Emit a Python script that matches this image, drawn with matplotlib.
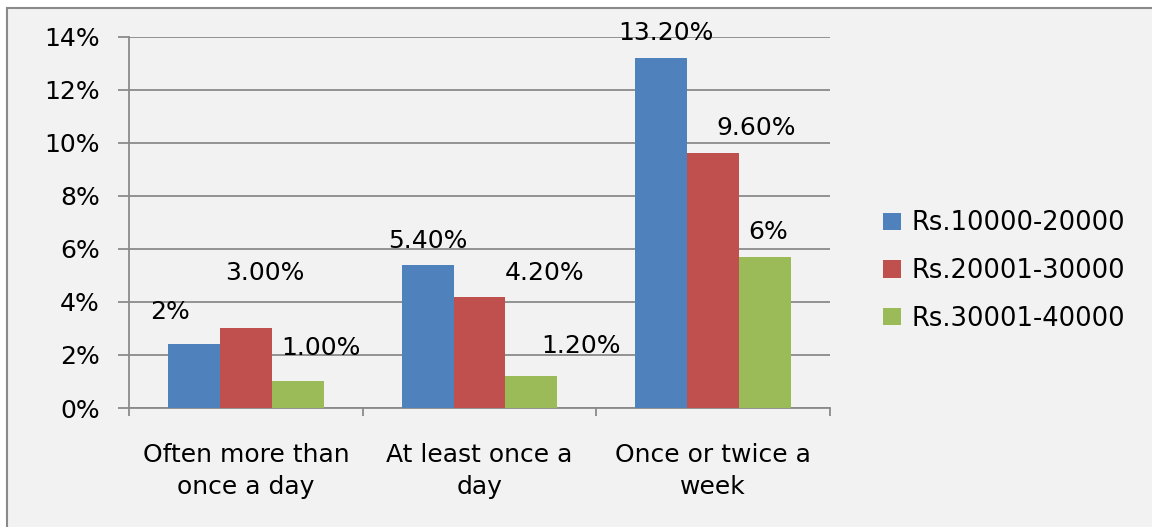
import numpy as np
from matplotlib import pyplot as plt
from matplotlib.patches import Rectangle
from matplotlib.ticker import FuncFormatter

# frequency categories and the three income groups
categories = ['Often more than\nonce a day', 'At least once a\nday', 'Once or twice a\nweek']
groups = ['Rs.10000-20000', 'Rs.20001-30000', 'Rs.30001-40000']
low_income = [2.4, 5.4, 13.2]
mid_income = [3.0, 4.2, 9.6]
high_income = [1.0, 1.2, 5.7]
label_formats = [['{:.0f}%', '{:.2f}%', '{:.2f}%'],
                 ['{:.2f}%', '{:.2f}%', '{:.2f}%'],
                 ['{:.2f}%', '{:.2f}%', '{:.0f}%']]

colors = ['#4F81BD', '#C0504D', '#9BBB59']
grid_grey = '#8A8A8A'
fs = 18
# where each value label sits relative to the top of its bar (points)
label_offsets = [
    [(-17, 18), (14, 35), (17, 19)],
    [(0, 12), (47, 12), (36, 17)],
    [(3, 13), (31, 13), (2, 13)],
]

plt.rcParams['font.family'] = 'DejaVu Sans'
fig = plt.figure(figsize=(11.52, 5.27), dpi=100, facecolor='white')

# grey chart-area box
fig.patches.append(Rectangle((7 / 1152, -0.05), 1.2, 1.05 - 8 / 527,
                             transform=fig.transFigure, facecolor='#F2F2F2',
                             edgecolor='#8A8A8A', linewidth=1.5, zorder=-10))

ax = fig.add_axes([129 / 1152, 1 - 408 / 527, 701 / 1152, 371.5 / 527])
ax.set_facecolor('none')

x = np.arange(len(categories))
w = 0.222
series = [low_income, mid_income, high_income]
for i, (vals, name, c) in enumerate(zip(series, groups, colors)):
    bars = ax.bar(x + (i - 1) * w, vals, w, color=c, label=name, zorder=3)
    for j, b in enumerate(bars):
        dx, dy = label_offsets[j][i]
        ax.annotate(label_formats[j][i].format(vals[j]),
                    (b.get_x() + b.get_width() / 2, b.get_height()),
                    xytext=(dx, dy), textcoords='offset points',
                    ha='center', va='baseline', fontsize=fs, color='black', zorder=4)

ax.set_xlim(-0.5, 2.5)
ax.set_ylim(0, 14)
ax.set_yticks(np.arange(0, 15, 2))
ax.yaxis.set_major_formatter(FuncFormatter(lambda v, p: f'{v:.0f}%'))
ax.grid(axis='y', color=grid_grey, linewidth=1.3, zorder=0)

ax.set_xticks(x)
ax.set_xticklabels(categories, fontsize=fs, linespacing=1.45)
ax.set_xticks([-0.5, 0.5, 1.5, 2.5], minor=True)
ax.tick_params(axis='x', which='major', length=0, pad=25)
ax.tick_params(axis='x', which='minor', length=6, width=1.3, color=grid_grey)
ax.tick_params(axis='y', length=8, width=1.3, color=grid_grey, labelsize=fs, pad=13)

for side in ['top', 'right']:
    ax.spines[side].set_visible(False)
for side in ['left', 'bottom']:
    ax.spines[side].set_color(grid_grey)
    ax.spines[side].set_linewidth(1.3)

fig.legend(loc='center left', bbox_to_anchor=(883 / 1152, 1 - 271 / 527),
           frameon=False, fontsize=fs + 0.5, handlelength=0.7, handleheight=0.68,
           handletextpad=0.42, labelspacing=0.84, borderpad=0, borderaxespad=0)

fig.savefig('out.png', dpi=100, facecolor=fig.get_facecolor())
